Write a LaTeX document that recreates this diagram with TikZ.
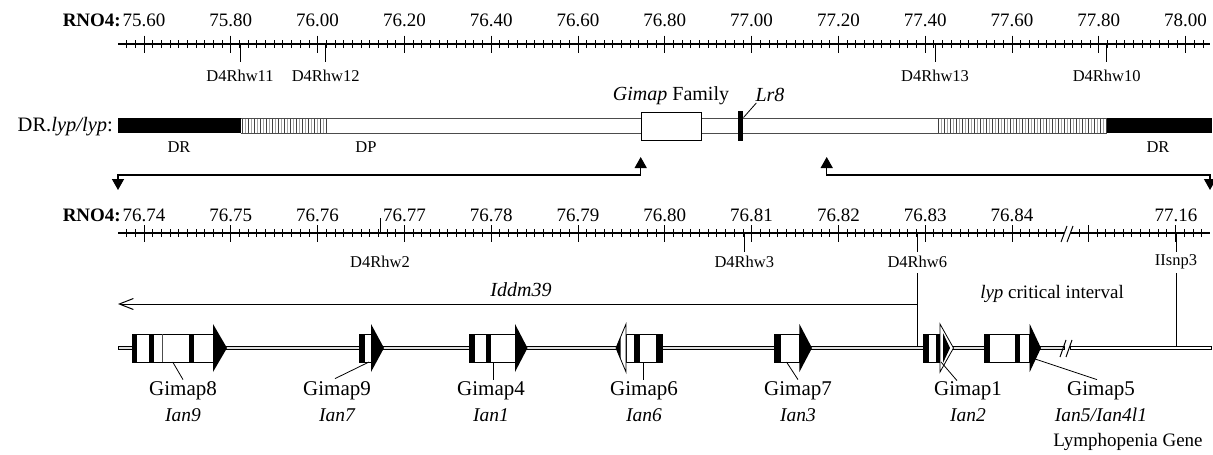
\documentclass[tikz,border=0pt]{standalone}
\usepackage{fontspec}
\setmainfont{Liberation Serif}
\usetikzlibrary{arrows.meta}

\begin{document}
\begin{tikzpicture}[x=1pt,y=-1pt,
  num/.style={font=\fontsize{19}{22}\selectfont, inner sep=0pt},
  rno/.style={font=\fontsize{19}{22}\selectfont\bfseries, anchor=east, inner sep=0pt},
  mklabel/.style={font=\fontsize{16.5}{19}\selectfont, inner sep=0pt},
  barlabel/.style={font=\fontsize{16.5}{19}\selectfont, inner sep=0pt},
  genelab/.style={font=\fontsize{21}{24}\selectfont, inner sep=0pt},
  ianlab/.style={font=\fontsize{19.5}{22}\selectfont\itshape, inner sep=0pt},
  axisline/.style={line width=1.3pt},
  minortick/.style={line width=0.8pt},
  majortick/.style={line width=1pt},
  leader/.style={line width=0.8pt},
  bigarrow/.style={line width=1.4pt,
    {Triangle[width=12pt,length=11pt]}-{Triangle[width=12pt,length=11pt]}},
  genebox/.style={draw=black, line width=0.7pt, fill=white},
  hatchdark/.style={line width=0.9pt, black!75},
  hatchlight/.style={line width=0.9pt, black!35},
]
\useasboundingbox (0,0) rectangle (1213,455);

% ---------------- upper ruler ----------------
\node[rno] (rnoA) at (121,20) {RNO4:};
\draw[axisline] (118,44) -- (1210,44);
\foreach \i in {-2,...,122}
  \draw[minortick] ({144+8.68*\i},40) -- ({144+8.68*\i},48);
\foreach \lab [count=\k from 0] in {75.60,75.80,76.00,76.20,76.40,76.60,76.80,77.00,77.20,77.40,77.60,77.80,78.00}{
  \draw[majortick] ({144+86.8*\k},35.5) -- ({144+86.8*\k},53);
  \node[num] (ta\k) at ({144+86.8*\k},20) {\lab};
}
% markers on the upper ruler
\foreach \x/\name/\id in {240/D4Rhw11/a, 325.7/D4Rhw12/b, 935/D4Rhw13/c, 1106.7/D4Rhw10/d}{
  \draw[majortick] (\x,44) -- (\x,61.7);
  \node[mklabel] (mk\id) at (\x,76) {\name};
}

% ---------------- congenic interval bar ----------------
\node[font=\fontsize{20.5}{24}\selectfont, anchor=east, inner sep=0pt] (strain) at (113,126.5) {DR.\textit{lyp/lyp}:};
% donor regions (solid) and recombination zones (hatched)
\fill[black] (118,118) rectangle (240.7,133.3);
\fill[black] (1106.7,118) rectangle (1212,133.3);
\foreach \x in {242,248,...,326} \draw[hatchdark] (\x,118.5) -- (\x,133);
\foreach \x in {245,251,...,326} \draw[hatchlight] (\x,118.5) -- (\x,133);
\foreach \x in {938,944,...,1106} \draw[hatchdark] (\x,118.5) -- (\x,133);
\foreach \x in {941,947,...,1106} \draw[hatchlight] (\x,118.5) -- (\x,133);
\draw[line width=0.9pt, black!70] (240.7,118) -- (1106.7,118);
\draw[line width=0.9pt, black!70] (240.7,133.3) -- (1106.7,133.3);
% Gimap family block and Lr8
\node[draw=black, line width=0.8pt, fill=white, inner sep=0pt,
      minimum width=60pt, minimum height=28pt] (gfam) at (670.9,125.9) {};
\node[fill=black, inner sep=0pt, minimum width=5pt, minimum height=29.7pt] (lr8bar) at (740.8,125.85) {};
\node[font=\fontsize{20}{24}\selectfont, inner sep=0pt] (gfaml) at (671,96) {\textit{Gimap} Family};
\node[font=\fontsize{20}{24}\selectfont\itshape, inner sep=0pt] (lr8) at (770,95) {Lr8};
\draw[leader] ([yshift=-6.7pt]lr8bar.north east) -- ([xshift=1pt,yshift=-1pt]lr8.south west);
% bar labels
\node[barlabel] (drL) at (179,147) {DR};
\node[barlabel] (dp) at (366,147) {DP};
\node[barlabel] (drR) at (1158,147) {DR};

% expansion arrows
\coordinate (eaL1) at (118,190);
\coordinate (eaL2) at (118,175);
\coordinate (eaL3) at (640.7,175);
\coordinate (eaL4) at (640.7,157);
\coordinate (eaR1) at (826.7,157);
\coordinate (eaR2) at (826.7,175);
\coordinate (eaR3) at (1210,175);
\coordinate (eaR4) at (1210,190);
\draw[bigarrow] (eaL1) -- (eaL2) -- (eaL3) -- (eaL4);
\draw[bigarrow] (eaR1) -- (eaR2) -- (eaR3) -- (eaR4);

% ---------------- lower ruler ----------------
\node[rno] (rnoB) at (121,215) {RNO4:};
\draw[axisline] (118,233) -- (1064,233);
\draw[axisline] (1070,233) -- (1210,233);
\foreach \i in {-2,...,105}
  \draw[minortick] ({144+8.68*\i},229) -- ({144+8.68*\i},237);
\foreach \j in {0,...,14}
  \draw[minortick] ({1079.5+8.73*\j},229) -- ({1079.5+8.73*\j},237);
\foreach \lab [count=\k from 0] in {76.74,76.75,76.76,76.77,76.78,76.79,76.80,76.81,76.82,76.83,76.84}{
  \draw[majortick] ({144+86.8*\k},225) -- ({144+86.8*\k},242);
  \node[num] (tb\k) at ({144+86.8*\k},215) {\lab};
}
\draw[majortick] (1088.2,225) -- (1088.2,242);
\draw[majortick] (1175.5,225) -- (1175.5,242);
\node[num] (tb11) at (1176,215) {77.16};
% axis break
\draw[line width=1pt] (1061,242) -- (1067,226);
\draw[line width=1pt] (1067,242) -- (1073,226);
% markers on the lower ruler
\draw[majortick] (380,233) -- (380,218);
\node[mklabel] (mk2) at (380,262) {D4Rhw2};
\draw[majortick] (744.3,233) -- (744.3,252);
\node[mklabel] (mk3) at (744.3,262) {D4Rhw3};
\draw[majortick] (917.3,233) -- (917.3,252);
\node[mklabel] (mk6) at (917.3,262) {D4Rhw6};
\draw[majortick] (1176,233) -- (1176,252);
\node[mklabel] (snp) at (1176,262) {IIsnp3};

% ---------------- intervals ----------------
\coordinate (idTop) at (917.3,273);
\coordinate (idMid) at (917.3,304);
\coordinate (idBot) at (917.3,348);
\coordinate (idEnd) at (118,304);
\coordinate (snTop) at (1176,273);
\coordinate (snBot) at (1176,348);
\draw[line width=1pt] (idTop) -- (idBot);
\draw[line width=1pt] (snTop) -- (snBot);
\draw[line width=1pt, -{Straight Barb[length=14pt,width=11pt]}] (idMid) -- (idEnd);
\node[font=\fontsize{20}{24}\selectfont\itshape, inner sep=0pt] (iddm) at (521,290) {Iddm39};
\node[font=\fontsize{19}{22}\selectfont, inner sep=0pt] (lyp) at (1052,294) {\textit{lyp} critical interval};

% ---------------- gene track ----------------
\draw[line width=0.7pt, fill=black!12] (118,346.3) rectangle (1064,349.7);
\draw[line width=0.7pt, fill=white] (1070,346.3) rectangle (1211,349.7);
\draw[line width=1pt] (1060,357) -- (1066,340);
\draw[line width=1pt] (1066,357) -- (1072,340);

% Gimap8
\draw[genebox] (132,334) rectangle (213,362);
\fill (132,334) rectangle (137,362);
\fill (149,334) rectangle (154,362);
\draw[line width=0.7pt, black!70] (162.7,334) -- (162.7,362);
\fill (189,334) rectangle (194,362);
\fill (213,324) -- (227,348) -- (213,372) -- cycle;
% Gimap9
\draw[genebox] (359,334) rectangle (371,362);
\fill (359,334) rectangle (364.5,362);
\fill (371,324) -- (384,348) -- (371,372) -- cycle;
% Gimap4
\draw[genebox] (469,334) rectangle (515,362);
\fill (469,334) rectangle (475,362);
\fill (485.7,334) rectangle (490.7,362);
\fill (515,324) -- (527.5,348) -- (515,372) -- cycle;
% Gimap6 (reverse strand)
\draw[genebox] (626,334) rectangle (662,362);
\fill (634,334) rectangle (640,362);
\fill (656,334) rectangle (662,362);
\draw[line width=0.8pt, fill=white] (626,324) -- (616,348) -- (626,372) -- cycle;
\fill (616,348) -- (620.5,337) -- (620.5,359) -- cycle;
% Gimap7
\draw[genebox] (774.5,334) rectangle (799.4,362);
\fill (774.5,334) rectangle (781,362);
\fill (799.4,324) -- (812,348) -- (799.4,372) -- cycle;
% Gimap1
\draw[genebox] (923.5,334) rectangle (940,362);
\fill (923.5,334) rectangle (929,362);
\fill (935.5,334) rectangle (940,362);
\draw[line width=0.8pt, fill=white] (940,324) -- (953.5,348) -- (940,372) -- cycle;
\fill (943,333) -- (950,348) -- (943,363) -- cycle;
% Gimap5
\draw[genebox] (984,334) rectangle (1029.7,362);
\fill (984,334) rectangle (989.5,362);
\fill (1015,334) rectangle (1020,362);
\fill (1029.7,324) -- (1041,348) -- (1029.7,372) -- cycle;

% gene labels
\node[genelab] (g8) at (183,391) {Gimap8};
\node[ianlab]  (i8) at (183,415) {Ian9};
\node[genelab] (g9) at (337,391) {Gimap9};
\node[ianlab]  (i9) at (337,415) {Ian7};
\node[genelab] (g4) at (491,391) {Gimap4};
\node[ianlab]  (i4) at (491,415) {Ian1};
\node[genelab] (g6) at (644,391) {Gimap6};
\node[ianlab]  (i6) at (644,415) {Ian6};
\node[genelab] (g7) at (798,391) {Gimap7};
\node[ianlab]  (i7) at (798,415) {Ian3};
\node[genelab] (g1) at (968,391) {Gimap1};
\node[ianlab]  (i1) at (968,415) {Ian2};
\node[genelab] (g5) at (1101,391) {Gimap5};
\node[ianlab]  (i5) at (1101,415) {Ian5/Ian4l1};
\node[font=\fontsize{19}{22}\selectfont, inner sep=0pt] (lymph) at (1128,442) {Lymphopenia Gene};

% leader lines from genes to labels
\coordinate (l8) at (172.7,362);
\coordinate (l9) at (369,362);
\coordinate (l4) at (493,362);
\coordinate (l6) at (643,362);
\coordinate (l7) at (786.5,362);
\coordinate (l1) at (941,362);
\coordinate (l5) at (1032,358);
\draw[leader] (l8) -- ([yshift=2pt]g8.north);
\draw[leader] (l9) -- ([xshift=-2pt,yshift=3pt]g9.north);
\draw[leader] (l4) -- ([xshift=2pt,yshift=2pt]g4.north);
\draw[leader] (l6) -- ([xshift=-1pt,yshift=2pt]g6.north);
\draw[leader] (l7) -- ([yshift=2pt]g7.north);
\draw[leader] (l1) -- ([xshift=-11pt,yshift=1pt]g1.north);
\draw[leader] (l5) -- ([xshift=-4pt,yshift=2pt]g5.north);
\end{tikzpicture}
\end{document}
